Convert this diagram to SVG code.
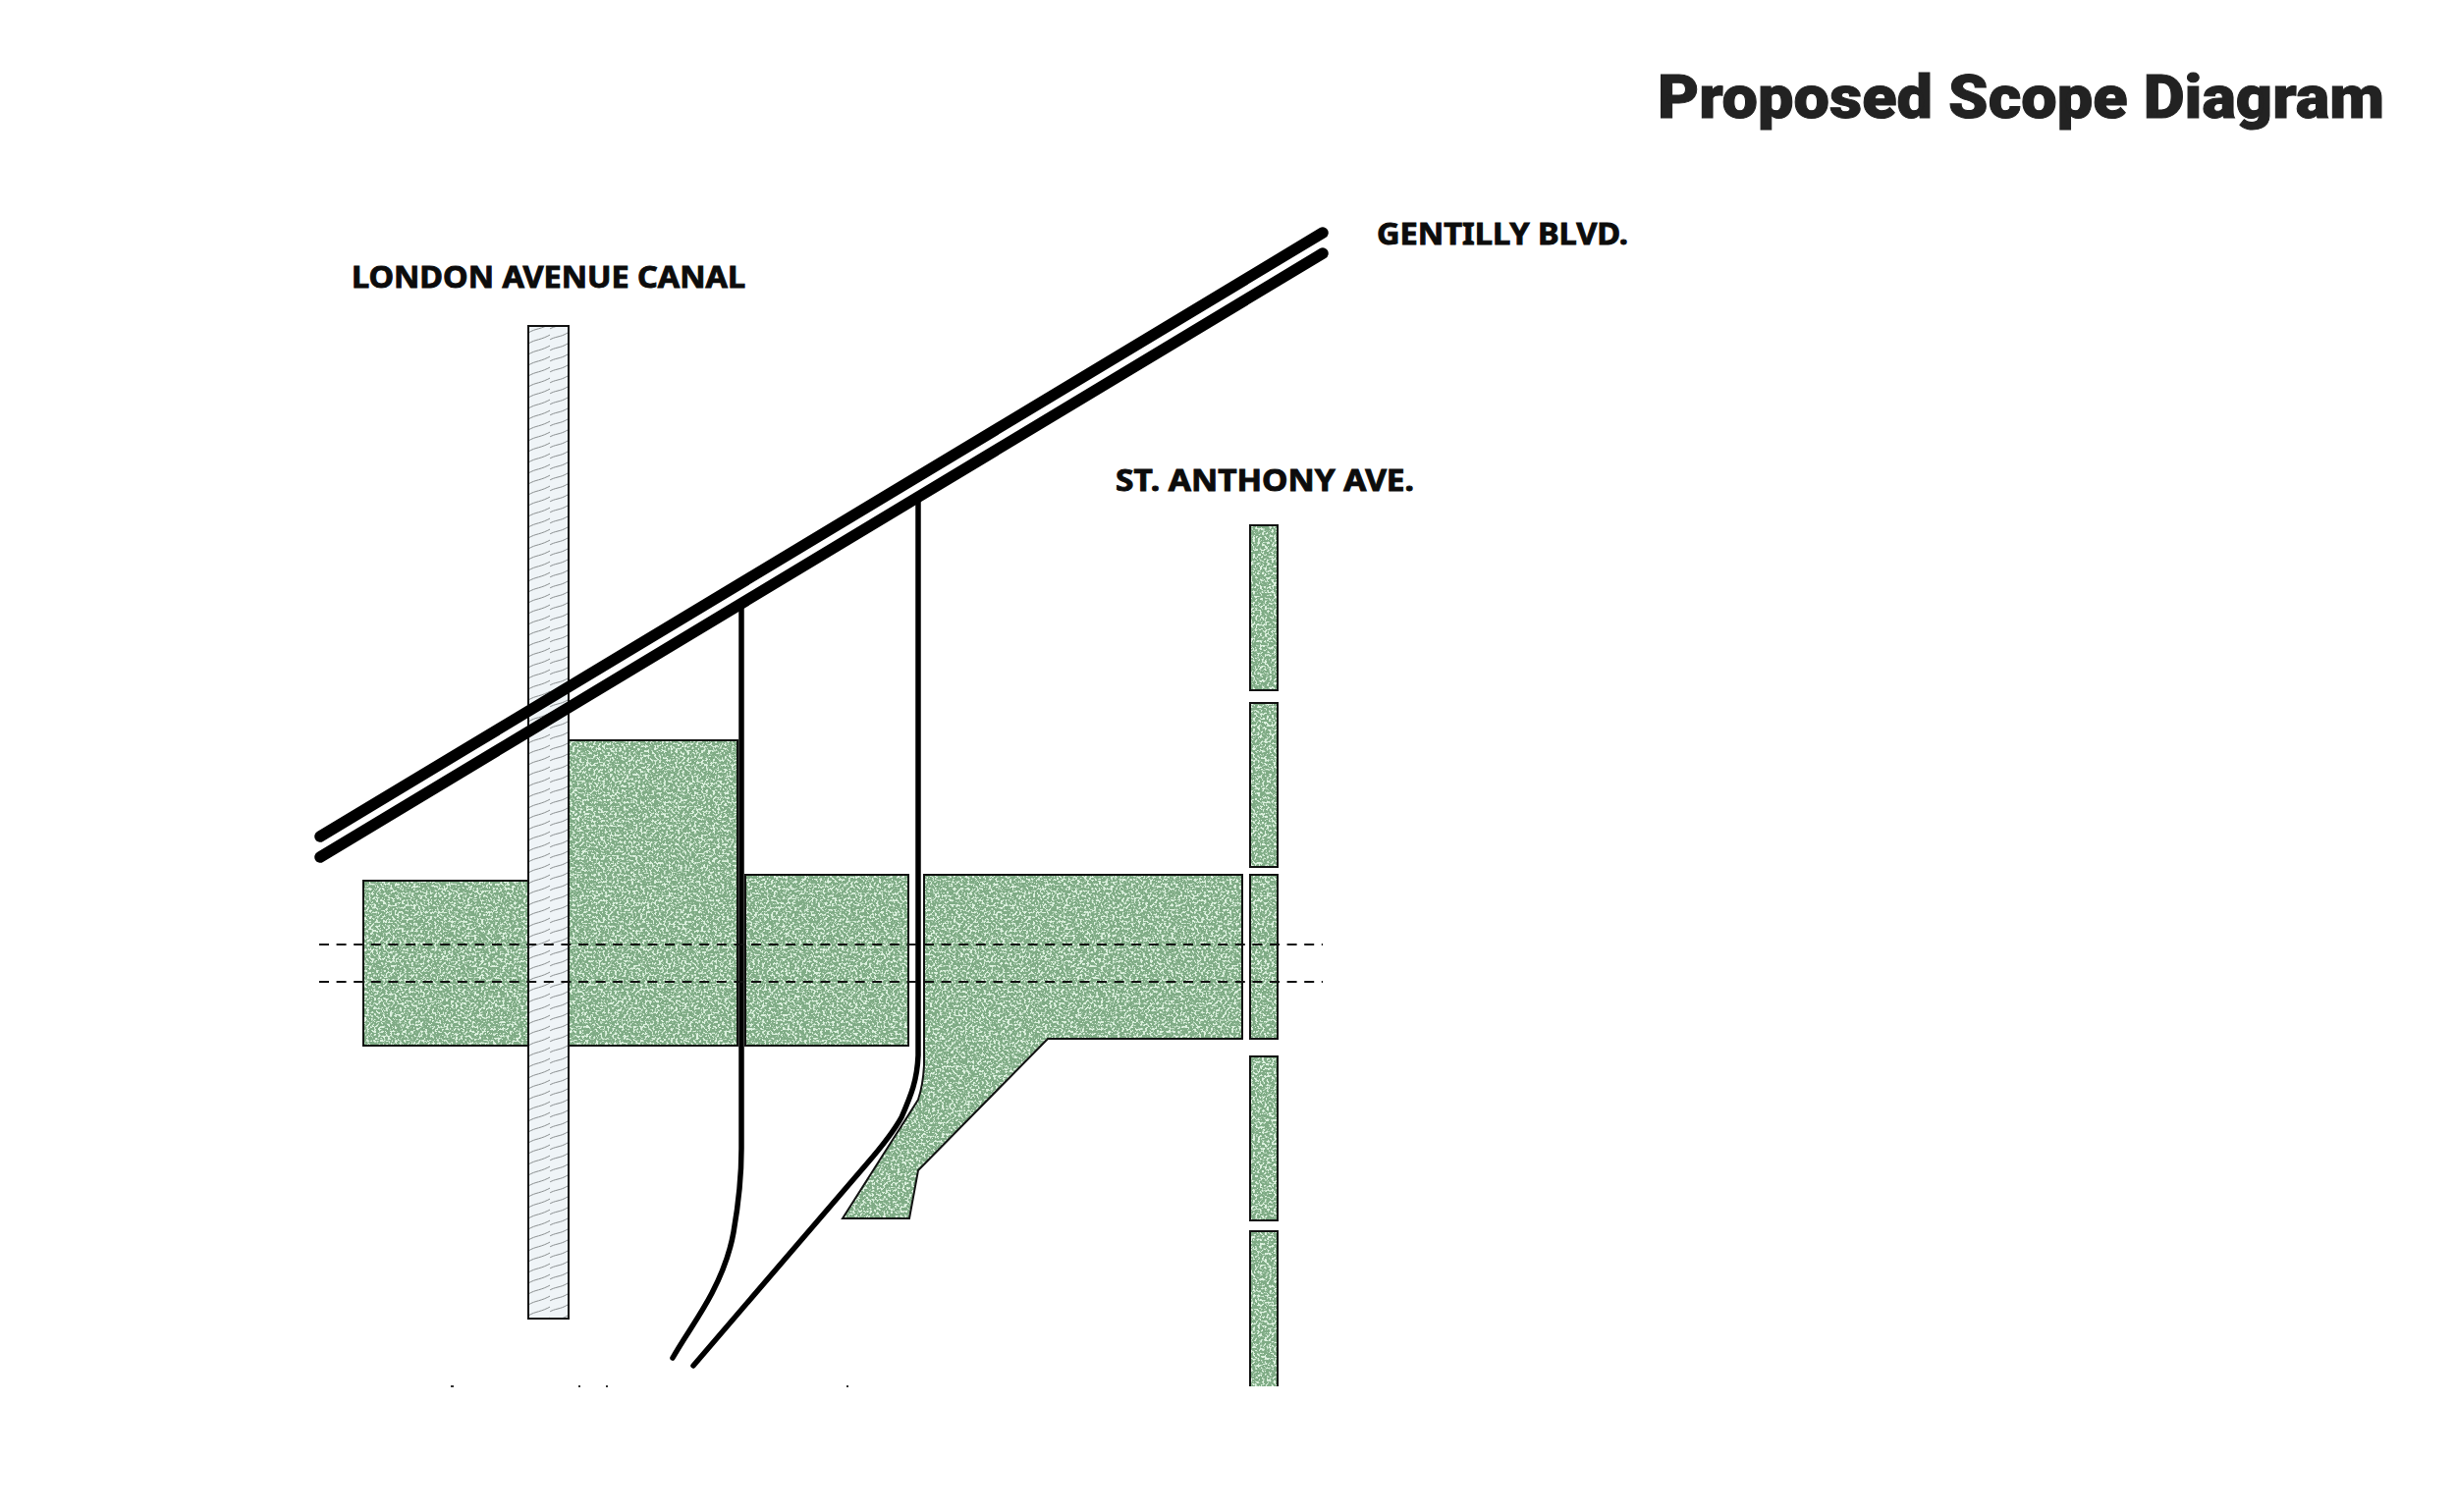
<svg xmlns="http://www.w3.org/2000/svg" width="2500" height="1540" viewBox="0 0 2500 1540">
<style>
.title{font-family:"Roboto","Liberation Sans",sans-serif;font-weight:900;font-size:62px;fill:#222;stroke:#222;stroke-width:1}
.lab{font-family:"Noto Sans","Open Sans",sans-serif;font-weight:700;font-size:30px;fill:#0c0c0c;stroke:#0c0c0c;stroke-width:.9}
.fillg{fill:#7fab85}
.edge{fill:none;stroke:#111;stroke-width:2}
.road{fill:none;stroke:#000;stroke-width:11.5;stroke-linecap:round}
.rail{fill:none;stroke:#000;stroke-width:5.5;stroke-linecap:round}
.dash{fill:none;stroke:#111;stroke-width:2;stroke-dasharray:10 7.6}
</style>
<defs>
<filter id="speckle" x="0" y="0" width="1" height="1" color-interpolation-filters="sRGB">
<feTurbulence type="fractalNoise" baseFrequency="0.42" numOctaves="2" seed="7" result="n"/>
<feColorMatrix in="n" type="matrix" values="0 0 0 0 0.87  0 0 0 0 0.95  0 0 0 0 0.88  9 0 0 0 -4.55" result="s"/>
<feComposite in="s" in2="SourceAlpha" operator="in" result="c"/>
<feMerge><feMergeNode in="SourceGraphic"/><feMergeNode in="c"/></feMerge>
</filter>
<pattern id="hatch" patternUnits="userSpaceOnUse" width="40" height="11">
<rect width="40" height="11" fill="#eff4f7"/>
<path d="M-2 17C6 12 10 14 18 9S30 6 42 -1M-2 6C6 1 10 3 18 -2M18 20C26 15 30 17 42 10" fill="none" stroke="#8a8f90" stroke-width="1"/>
</pattern>
</defs>
<rect width="2500" height="1540" fill="#fff"/>
<g id="scope-areas">
<g id="area-west"><rect class="fillg" filter="url(#speckle)" x="370" y="897" width="168" height="168"/><rect class="edge" x="370" y="897" width="168" height="168"/></g>
<g id="area-north"><rect class="fillg" filter="url(#speckle)" x="578" y="754" width="173" height="311"/><rect class="edge" x="578" y="754" width="173" height="311"/></g>
<g id="area-middle"><rect class="fillg" filter="url(#speckle)" x="759" y="891" width="166" height="174"/><rect class="edge" x="759" y="891" width="166" height="174"/></g>
<g id="area-east"><path class="fillg" filter="url(#speckle)" d="M941 891H1265V1058H1067L935 1192L926 1241H858L935 1120Q940 1105 941 1085Z"/><path class="edge" d="M941 891H1265V1058H1067L935 1192L926 1241H858L935 1120Q940 1105 941 1085Z"/></g>
</g>
<g id="st-anthony">
<g id="strip-1"><rect class="fillg" filter="url(#speckle)" x="1273" y="535" width="28" height="168"/><rect class="edge" x="1273" y="535" width="28" height="168"/></g>
<g id="strip-2"><rect class="fillg" filter="url(#speckle)" x="1273" y="716" width="28" height="167"/><rect class="edge" x="1273" y="716" width="28" height="167"/></g>
<g id="strip-3"><rect class="fillg" filter="url(#speckle)" x="1273" y="891" width="28" height="167"/><rect class="edge" x="1273" y="891" width="28" height="167"/></g>
<g id="strip-4"><rect class="fillg" filter="url(#speckle)" x="1273" y="1076" width="28" height="167"/><rect class="edge" x="1273" y="1076" width="28" height="167"/></g>
<g id="strip-5"><rect class="fillg" filter="url(#speckle)" x="1273" y="1254" width="28" height="158"/><path class="edge" d="M1273 1412V1254H1301V1412"/></g>
</g>
<g id="canal"><rect x="538" y="332" width="41" height="1011" fill="url(#hatch)" stroke="#111" stroke-width="2"/></g>
<g id="connectors">
<path class="road" d="M326 852L1347 237"/>
<path class="road" d="M326 873L1347 258"/>
<path class="rail" d="M755 616V1170C755 1205 751 1232 747 1255C744 1272 738 1292 725 1317C712 1342 698 1360 685 1383"/>
<path class="rail" d="M935 508V1075C934 1100 928 1115 918 1138C908 1156 896 1170 883 1185C850 1224 770 1316 706 1391"/>
<path class="dash" d="M325 962H1347"/>
<path class="dash" d="M325 1000H1347"/>
</g>
<g id="ticks" fill="#333"><rect x="459" y="1411" width="3" height="2"/><rect x="589" y="1411" width="2" height="2"/><rect x="617" y="1411" width="2" height="2"/><rect x="862" y="1411" width="2" height="2"/></g>
<g id="labels">
<text class="title" x="1688" y="120" textLength="740" lengthAdjust="spacingAndGlyphs">Proposed Scope Diagram</text>
<text class="lab" x="358" y="293" textLength="401" lengthAdjust="spacingAndGlyphs">LONDON AVENUE CANAL</text>
<text class="lab" x="1402" y="249" textLength="256" lengthAdjust="spacingAndGlyphs">GENTILLY BLVD.</text>
<text class="lab" x="1136" y="500" textLength="304" lengthAdjust="spacingAndGlyphs">ST. ANTHONY AVE.</text>
</g>
</svg>
